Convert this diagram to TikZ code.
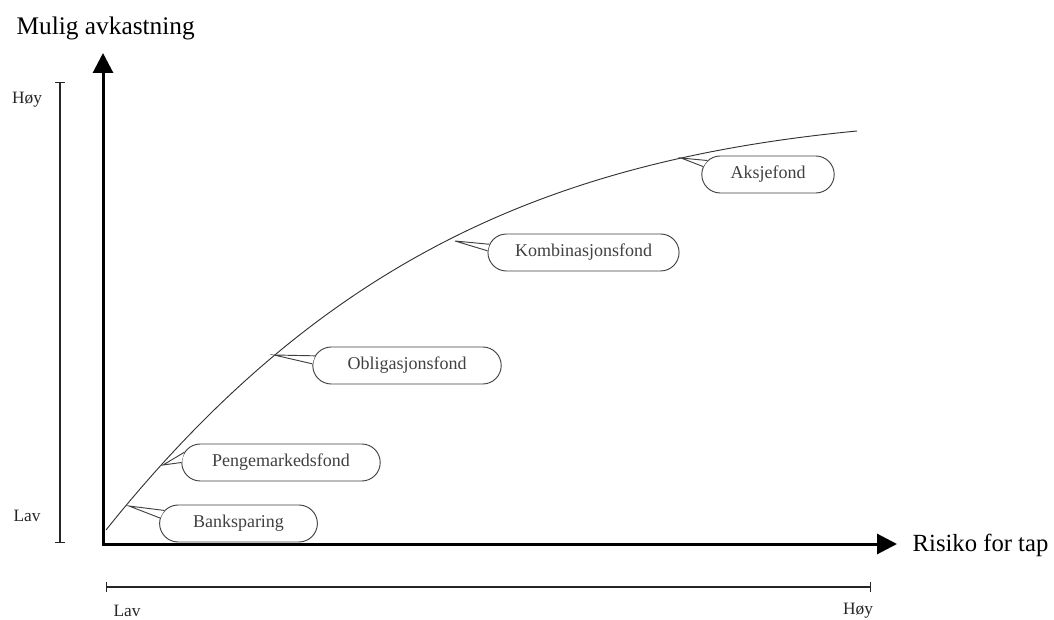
\documentclass[tikz,border=0pt]{standalone}
\usepackage{fontspec}
\setmainfont{Liberation Serif}
\usetikzlibrary{arrows.meta,shapes.misc}

\begin{document}
\begin{tikzpicture}[x=0.75pt,y=-0.75pt,
		axis/.style={line width=2.25pt,{Triangle[length=15pt,width=15pt]}-{Triangle[length=15pt,width=15pt]}},
		scalebar/.style={line width=0.8pt,draw=black!85,{Bar[width=7pt]}-{Bar[width=7pt]}},
		bubble/.style={rounded rectangle,draw=black!75,line width=0.7pt,minimum height=27.75pt,
			font=\fontsize{13.5}{16}\selectfont,text=black!75},
		pointer/.style={draw=black!75,line width=0.7pt,fill=white},
		small/.style={font=\fontsize{13}{15}\selectfont,text=black!85}
		]
		\useasboundingbox (0,0) rectangle (1054,620);

		% axes
		\coordinate (O) at (103,544);
		\coordinate (ytip) at (103,53);
		\coordinate (xtip) at (897,544);
		\draw[axis] (ytip) -- (O) -- (xtip);
		\node[anchor=west,font=\fontsize{19}{22}\selectfont](ylabel) at (12,28){Mulig avkastning};
		\node[anchor=west,font=\fontsize{18.5}{22}\selectfont](xlabel) at (908,545){Risiko for tap};

		% scale bars
		\coordinate (lt) at (60,82);
		\coordinate (lb) at (60,543);
		\draw[scalebar] (lt) -- (lb);
		\node[small](lhigh) at (27,100){Høy};
		\node[small](llow) at (27,516){Lav};
		\coordinate (bl) at (106,587);
		\coordinate (br) at (871,587);
		\draw[scalebar] (bl) -- (br);
		\node[small](blow) at (127,611){Lav};
		\node[small](bhigh) at (858,611){Høy};

		% curve
		\coordinate (c0) at (106,530);
		\coordinate (c1) at (857,131);
		\draw[black!80,line width=0.7pt] (c0) .. controls (326,255) and (557,160) .. (c1);
		\coordinate (tbank) at (129,506);
		\coordinate (tpeng) at (163,465);
		\coordinate (toblig) at (274,355);
		\coordinate (tkomb) at (455,241);
		\coordinate (taksje) at (681,158);

		% funds
		\node[bubble, minimum width=125pt](bank) at (238.5,523.5){Banksparing};
		\filldraw[pointer] (bank.170) -- (tbank) -- (bank.176);
		\node[bubble, minimum width=155.5pt](peng) at (281,462.5){Pengemarkedsfond};
		\filldraw[pointer] (peng.174) -- (tpeng) -- (peng.180);
		\node[bubble, minimum width=148pt](oblig) at (407,365.5){Obligasjonsfond};
		\filldraw[pointer] (oblig.174) -- (toblig) -- (oblig.179);
		\node[bubble, minimum width=150pt](komb) at (583.5,252.5){Kombinasjonsfond};
		\filldraw[pointer] (komb.175) -- (tkomb) -- (komb.179);
		\node[bubble, minimum width=106pt](aksje) at (768,174.5){Aksjefond};
		\filldraw[pointer] (aksje.167) -- (taksje) -- (aksje.173);
	\end{tikzpicture}
\end{document}
